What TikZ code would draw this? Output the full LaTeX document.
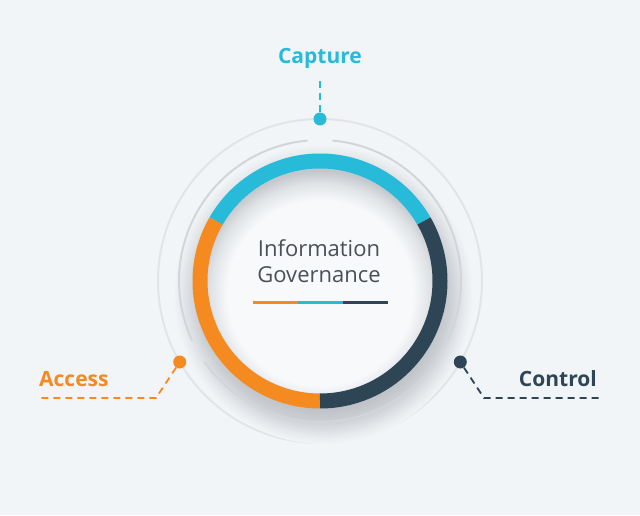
\documentclass[tikz,border=0pt]{standalone}
\usepackage{fontspec}
\setmainfont{Open Sans}
\usetikzlibrary{calc}
\definecolor{bg}{HTML}{F2F5F8}
\definecolor{cyanc}{HTML}{27BAD9}
\definecolor{orangec}{HTML}{F58A20}
\definecolor{darkc}{HTML}{2E4555}
\definecolor{txtc}{HTML}{4A5058}
\definecolor{ringgray}{HTML}{D3D6D9}
\definecolor{outergray}{HTML}{E2E5E8}
\definecolor{sha}{HTML}{B9BDC2}
\definecolor{shb}{HTML}{BEC2C6}
\definecolor{shc}{HTML}{CACED2}
\definecolor{shd}{HTML}{DADDE1}
\definecolor{she}{HTML}{E8EBEE}
\definecolor{discin}{HTML}{F7F9FB}
\definecolor{discmid}{HTML}{E0E3E6}
\definecolor{discout}{HTML}{C4C8CC}
\pgfdeclareradialshading{dropshade}{\pgfpoint{0bp}{0bp}}{color(0bp)=(sha); color(19bp)=(shb); color(21bp)=(shc); color(22.5bp)=(shd); color(23.75bp)=(she); color(25bp)=(bg); color(50bp)=(bg)}
\pgfdeclareradialshading{discshade}{\pgfpoint{0bp}{0bp}}{color(0bp)=(discin); color(19bp)=(discin); color(22.5bp)=(discmid); color(25bp)=(discout); color(50bp)=(discout)}
\tikzset{
  dot/.style={circle, minimum size=13pt, inner sep=0pt},
  dashline/.style={line width=1.8pt, dash pattern=on 7pt off 5pt},
  lbl/.style={inner sep=0pt, font=\fontsize{21}{25}\selectfont\bfseries},
  seg/.style={line width=15pt},
  midarc/.style={ringgray, line width=2pt},
}
\begin{document}
\begin{tikzpicture}[x=1pt,y=1pt]
\fill[bg] (0,0) rectangle (640,515);
\useasboundingbox (0,0) rectangle (640,515);
\coordinate (C) at (320,234);
% outer thin circle
\draw[outergray, line width=2pt] (C) circle[radius=162];
% drop shadow
\shade[shading=dropshade] ($(C)+(3,-13)$) circle[radius=150];
% middle broken circle
\draw[midarc] ($(C)+(95:141)$) arc[start angle=95, end angle=205, radius=141];
\draw[midarc] ($(C)+(215:141)$) arc[start angle=215, end angle=325, radius=141];
\draw[midarc] ($(C)+(335:141)$) arc[start angle=335, end angle=445, radius=141];
% inner disc
\begin{scope}
  \clip (C) circle[radius=113];
  \fill[discout] (C) circle[radius=114];
  \shade[shading=discshade] ($(C)+(0,-12)$) circle[radius=122];
\end{scope}
% ring segments
\draw[seg, cyanc] ($(C)+(30:120)$) arc[start angle=30, end angle=150, radius=120];
\draw[seg, orangec] ($(C)+(150:120)$) arc[start angle=150, end angle=270, radius=120];
\draw[seg, darkc] ($(C)+(270:120)$) arc[start angle=270, end angle=390, radius=120];
% centre text
\node[inner sep=0pt, anchor=base, text=txtc, font=\fontsize{22}{26}\selectfont] (t1) at (319,258.3) {Information};
\node[inner sep=0pt, anchor=base, text=txtc, font=\fontsize{22}{26}\selectfont] (t2) at (319,232.3) {Governance};
\coordinate (b0) at (252.7,212.7);
\coordinate (b1) at (297.9,212.7);
\coordinate (b2) at (343.1,212.7);
\coordinate (b3) at (388.3,212.7);
\draw[orangec, line width=3.5pt] (b0) -- (b1);
\draw[cyanc, line width=3.5pt] (b1) -- (b2);
\draw[darkc, line width=3.5pt] (b2) -- (b3);
% dots
\node[dot, fill=cyanc] (capdot) at ($(C)+(90:162)$) {};
\node[dot, fill=orangec] (accdot) at ($(C)+(210:162)$) {};
\node[dot, fill=darkc] (condot) at ($(C)+(330:162)$) {};
% connectors
\coordinate (captop) at (320,435);
\draw[dashline, cyanc] (capdot) -- (captop);
\coordinate (accbend) at (156,117);
\coordinate (accend) at (38,117);
\draw[dashline, orangec] (accdot) -- (accbend) -- (accend);
\coordinate (conbend) at (484,117);
\coordinate (conend) at (603,117);
\draw[dashline, darkc] (condot) -- (conbend) -- (conend);
% labels
\node[lbl, text=cyanc, anchor=base] (captxt) at (320,451.7) {Capture};
\node[lbl, text=orangec, anchor=base west] (acctxt) at (39,128.3) {Access};
\node[lbl, text=darkc, anchor=base east] (contxt) at (597,128.3) {Control};
\end{tikzpicture}
\end{document}
